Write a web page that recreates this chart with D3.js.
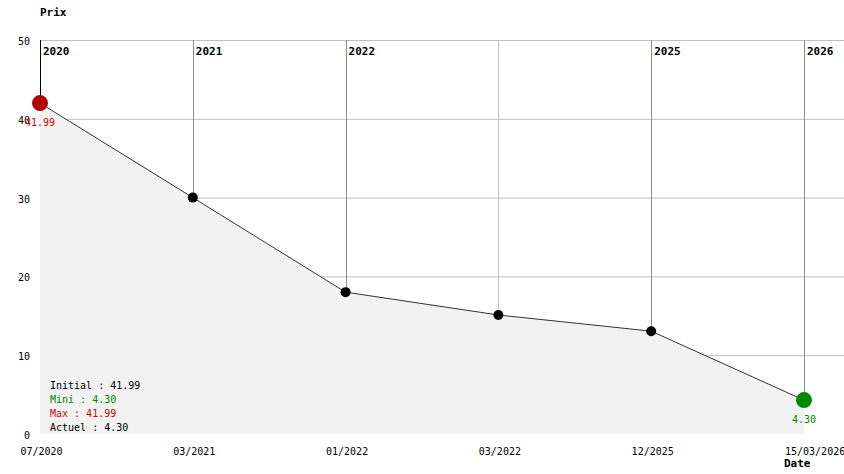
<!DOCTYPE html>
<html><head><meta charset="utf-8">
<script src="https://cdn.jsdelivr.net/npm/d3@7"></script>
<style>body{margin:0;background:#fff}svg{display:block}text{font-family:"DejaVu Sans Mono","Liberation Mono",monospace;font-size:10px}text.b{font-size:11px;font-weight:bold}</style>
</head><body>
<svg id="c" width="844" height="474"></svg>
<script>
const dates = ["07/2020","03/2021","01/2022","03/2022","12/2025","15/03/2026"];
const prices = [41.99, 30, 18, 15.1, 13.05, 4.30];
const yearMarks = ["2020","2021","2022","","2025","2026"];
const yTicks = [0,10,20,30,40,50];
const legendLabels = ["Initial : 41.99","Mini : 4.30","Max : 41.99","Actuel : 4.30"];
const legendColors = ["#000","#008800","#cc0000","#000"];

const svg = d3.select("#c");
const x = d3.scalePoint().domain(d3.range(dates.length)).range([40,804]);
const y = d3.scaleLinear().domain([0,50]).range([434,40]);

// horizontal grid
svg.append("g").selectAll("line").data(yTicks.filter(d=>d>0)).join("line")
  .attr("x1",40).attr("x2",844).attr("y1",d=>y(d)+0.5).attr("y2",d=>y(d)+0.5)
  .attr("stroke","#c0c0c0").attr("stroke-width",1);

// vertical lines
svg.append("g").selectAll("line").data(d3.range(dates.length)).join("line")
  .attr("x1",i=>Math.round(x(i))+0.5).attr("x2",i=>Math.round(x(i))+0.5)
  .attr("y1",y(50)).attr("y2",i=>y(prices[i]))
  .attr("stroke",i=> i===0 ? "#000" : (yearMarks[i] ? "#8c8c8c" : "#c0c0c0")).attr("stroke-width",1);

// area
const area = d3.area().x((d,i)=>x(i)).y0(y(0)).y1(d=>y(d));
svg.append("path").datum(prices).attr("d",area).attr("fill","#f2f2f2");

// line
const line = d3.line().x((d,i)=>x(i)).y(d=>y(d));
svg.append("path").datum(prices).attr("d",line).attr("fill","none").attr("stroke","#333").attr("stroke-width",1);

// year labels
svg.append("g").selectAll("text").data(d3.range(dates.length).filter(i=>yearMarks[i])).join("text")
  .attr("class","b").attr("x",i=>x(i)+3).attr("y",y(50)+15).text(i=>yearMarks[i]);

// y tick labels
svg.append("g").selectAll("text").data(yTicks).join("text")
  .attr("x",30).attr("y",d=>y(d)+5).attr("text-anchor","end").text(d=>d);

// x labels
const last = prices.length-1;
svg.append("g").selectAll("text").data(dates).join("text")
  .attr("x",(d,i)=> i===last ? 785 : x(i)+1.5).attr("y",455)
  .attr("text-anchor",(d,i)=> i===last ? "start" : "middle").text(d=>d);

// markers
svg.append("g").selectAll("circle").data(prices).join("circle")
  .attr("cx",(d,i)=>x(i)).attr("cy",d=>y(d))
  .attr("r",(d,i)=> (i===0||i===last)?8:5)
  .attr("fill",(d,i)=> i===0?"#b30000":(i===last?"#008800":"#000"));

// value labels
svg.append("text").attr("x",x(0)).attr("y",y(prices[0])+23).attr("text-anchor","middle").attr("fill","#cc0000").text(prices[0].toFixed(2));
svg.append("text").attr("x",x(last)).attr("y",y(prices[last])+23).attr("text-anchor","middle").attr("fill","#008800").text(prices[last].toFixed(2));

// legend
svg.append("g").selectAll("text").data(legendLabels).join("text")
  .attr("x",50).attr("y",(d,i)=>389+i*14).attr("fill",(d,i)=>legendColors[i]).text(d=>d);

// axis titles
svg.append("text").attr("class","b").attr("x",40).attr("y",16).text("Prix");
svg.append("text").attr("class","b").attr("x",784).attr("y",467).text("Date");
</script>
</body></html>
